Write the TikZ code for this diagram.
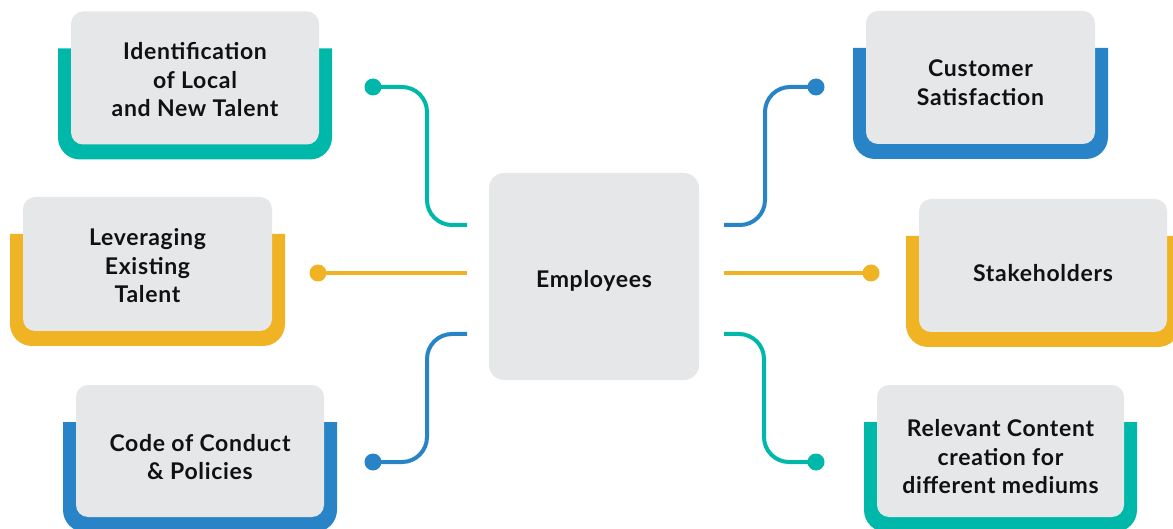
\documentclass[tikz,border=0pt]{standalone}
\usepackage{fontspec}
\setmainfont{Lato}
\usetikzlibrary{backgrounds}
\definecolor{tealc}{HTML}{00B8A9}
\definecolor{yellc}{HTML}{F0B323}
\definecolor{bluec}{HTML}{2884C6}
\definecolor{greyc}{HTML}{E6E7E9}
\definecolor{textc}{HTML}{111111}
\newcommand\uframe[2]{%
  \fill[#2] ([shift={(-13pt,-37pt)}]#1.north west)
    -- ([shift={(-13pt,7pt)}]#1.south west)
    arc[start angle=180,end angle=270,radius=22pt]
    -- ([shift={(-9pt,-15pt)}]#1.south east)
    arc[start angle=270,end angle=360,radius=22pt]
    -- ([shift={(13pt,-37pt)}]#1.north east) -- cycle;}
\begin{document}
\begin{tikzpicture}[x=1pt,y=1pt,
  gbox/.style={fill=greyc,rounded corners=12pt,outer sep=0pt,inner sep=0pt,
    minimum width=248pt,minimum height=133pt},
  tbox/.style={align=center,text=textc,inner sep=0pt,
    font=\fontsize{23}{28.5}\selectfont\bfseries\addfontfeatures{LetterSpace=3}},
  conn/.style={line width=4pt,rounded corners=25pt},
  dotn/.style={circle,fill=#1,minimum size=17pt,inner sep=0pt,outer sep=0pt}]
\useasboundingbox (0,0) rectangle (1173,-529);
\clip (0,0) rectangle (1173,-529);
% boxes
\node[gbox] (b1) at (195,-78) {};
\node[gbox,minimum width=249pt,minimum height=134pt] (b2) at (147.5,-264) {};
\node[gbox,minimum height=132pt] (b3) at (200,-451) {};
\node[gbox,minimum width=229pt] (b4) at (980.5,-77.5) {};
\node[gbox] (b5) at (1043,-265.5) {};
\node[gbox,minimum width=247pt,minimum height=132pt] (b6) at (1000.5,-451) {};
\node[gbox,minimum width=210pt,minimum height=207pt,rounded corners=15pt] (emp) at (594,-276.5) {};
% texts
\node[tbox] (t1) at ([yshift=-2pt]b1.center) {Identification\\of Local\\and New Talent};
\node[tbox] (t2) at ([yshift=-2pt]b2.center) {Leveraging\\Existing\\Talent};
\node[tbox] (t3) at ([yshift=-6pt]b3.center) {Code of Conduct\\\& Policies};
\node[tbox] (t4) at ([yshift=-5pt]b4.center) {Customer\\Satisfaction};
\node[tbox] (t5) at ([yshift=-8pt]b5.center) {Stakeholders};
\node[tbox] (t6) at ([yshift=-6pt]b6.center) {Relevant Content\\creation for\\different mediums};
\node[tbox] (te) at ([yshift=-4pt]emp.center) {Employees};
\begin{scope}[on background layer]
\uframe{b1}{tealc}
\uframe{b2}{yellc}
\uframe{b3}{bluec}
\uframe{b4}{bluec}
\uframe{b5}{yellc}
\uframe{b6}{tealc}
\end{scope}
% connector ends near Employees
\coordinate (l1) at (467,-225);
\coordinate (l2) at (467,-273);
\coordinate (l3) at (467,-334);
\coordinate (r1) at (724,-225);
\coordinate (r2) at (724,-273);
\coordinate (r3) at (724,-334);
% dots
\node[dotn=tealc] (d1) at (373,-87) {};
\node[dotn=yellc] (d2) at (318,-273) {};
\node[dotn=bluec] (d3) at (373,-462) {};
\node[dotn=bluec] (d4) at (816,-87) {};
\node[dotn=yellc] (d5) at (871,-273) {};
\node[dotn=tealc] (d6) at (816,-462) {};
% connectors
\draw[conn,tealc] (d1.center) -- (427,-87) -- (427,-225) -- (l1);
\draw[conn,yellc] (d2.center) -- (l2);
\draw[conn,bluec] (d3.center) -- (427,-462) -- (427,-334) -- (l3);
\draw[conn,bluec] (r1) -- (765,-225) -- (765,-87) -- (d4.center);
\draw[conn,yellc] (r2) -- (d5.center);
\draw[conn,tealc] (r3) -- (764,-334) -- (764,-462) -- (d6.center);
\end{tikzpicture}
\end{document}
